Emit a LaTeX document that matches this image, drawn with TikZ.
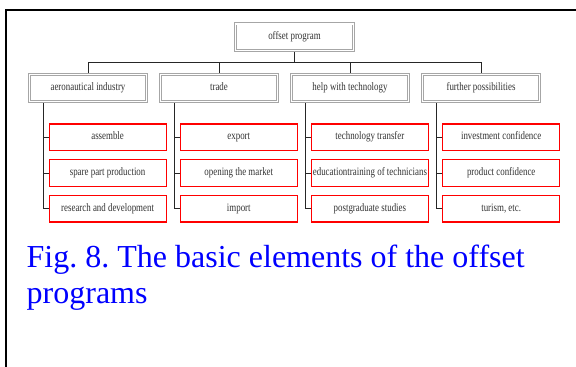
\documentclass[tikz,border=0pt]{standalone}
\usepackage{fontspec}
\setmainfont{Liberation Serif}
\newfontfamily\condf[FakeStretch=0.78]{Liberation Serif}
\usetikzlibrary{backgrounds,calc}
\definecolor{boxgray}{HTML}{A6A6A6}
\definecolor{txtgray}{HTML}{333333}
\frenchspacing
\begin{document}
\begin{tikzpicture}[x=1pt,y=-1pt,
  graybox/.style={draw=boxgray, double=white, double distance=1.4pt, line width=0.85pt,
    fill=white, minimum width=116.5pt, minimum height=26.5pt, inner sep=0pt,
    text height=8pt, text depth=2.5pt,
    font=\condf\fontsize{11.4}{13}\selectfont, text=txtgray},
  redbox/.style={draw=red, line width=1.2pt, fill=white, minimum width=117pt,
    minimum height=26.3pt, inner sep=0pt},
  lbl/.style={font=\condf\fontsize{11.4}{13}\selectfont, text=txtgray, inner sep=0pt,
    text height=8pt, text depth=2.5pt},
  conn/.style={draw=black!85, line width=0.9pt},
  framestyle/.style={draw=black, line width=2pt}]
\useasboundingbox (0,0) rectangle (576,367);
\draw[framestyle] (576,9.5) -- (6,9.5) -- (6,367);

\node[graybox, minimum width=118pt, minimum height=26.6pt] (top) at (294.5,37.2) {offset program};

\node[graybox] (l1) at (88,88) {aeronautical industry};
\node[graybox] (l2) at (219,88) {trade};
\node[graybox] (l3) at (350,88) {help with technology};
\node[graybox] (l4) at (481,88) {further possibilities};

\foreach \c/\x in {1/107.6,2/238.8,3/369.9,4/501.2}{
  \node[redbox] (c\c r1) at (\x,137.2) {};
  \node[redbox] (c\c r2) at (\x,173) {};
  \node[redbox] (c\c r3) at (\x,208.9) {};
}
\node[lbl] (t11) at (c1r1) {assemble};
\node[lbl] (t12) at (c1r2) {spare part production};
\node[lbl] (t13) at (c1r3) {research and development};
\node[lbl] (t21) at (c2r1) {export};
\node[lbl] (t22) at (c2r2) {opening the market};
\node[lbl] (t23) at (c2r3) {import};
\node[lbl] (t31) at (c3r1) {technology transfer};
\node[lbl] (t32) at (c3r2) {educationtraining of technicians};
\node[lbl] (t33) at (c3r3) {postgraduate studies};
\node[lbl] (t41) at (c4r1) {investment confidence};
\node[lbl] (t42) at (c4r2) {product confidence};
\node[lbl] (t43) at (c4r3) {turism, etc.};

\begin{scope}[on background layer]
  \coordinate (bus) at (294.5,62.5);
  \draw[conn] (top.south) -- (bus);
  \draw[conn] (l1.north) |- (bus) -| (l4.north);
  \draw[conn] (l2.north) -- (l2.north |- bus);
  \draw[conn] (l3.north) -- (l3.north |- bus);
  \foreach \c in {1,2,3,4}{
    \coordinate (v\c) at ($(l\c.south)+(-45,0)$);
    \draw[conn] (v\c) |- (c\c r3.west);
    \draw[conn] (c\c r1.west) -- (c\c r1.west -| v\c);
    \draw[conn] (c\c r2.west) -- (c\c r2.west -| v\c);
  }
\end{scope}

\node[anchor=base west, inner sep=0pt, text=blue, font=\fontsize{32}{35.5}\selectfont] (cap1) at (26.5,267.5) {Fig. 8. The basic elements of the offset};
\node[anchor=base west, inner sep=0pt, text=blue, font=\fontsize{32}{35.5}\selectfont] (cap2) at (26.5,303) {programs};
\end{tikzpicture}
\end{document}
